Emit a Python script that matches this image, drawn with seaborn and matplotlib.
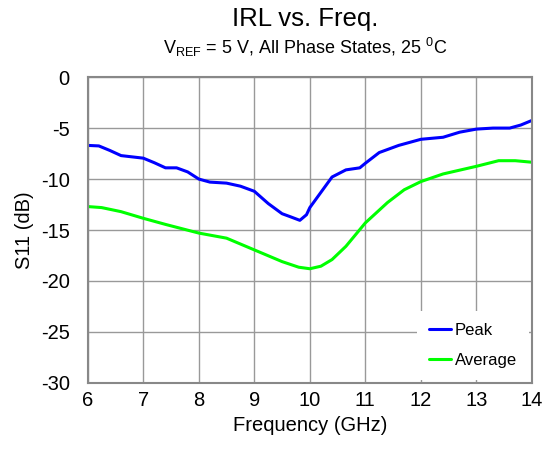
import numpy as np
import pandas as pd

import matplotlib
matplotlib.use("Agg")
import matplotlib.pyplot as plt
import seaborn as sns


freq_peak = [6.0, 6.2, 6.4, 6.6, 7.0, 7.2, 7.4, 7.6, 7.8, 8.0, 8.2, 8.5, 8.75,
             9.0, 9.25, 9.5, 9.65, 9.82, 9.94, 10.0, 10.2, 10.4, 10.65, 10.9,
             11.0, 11.25, 11.6, 12.0, 12.4, 12.7, 13.0, 13.3, 13.6, 13.8, 14.0]
peak_db = [-6.7, -6.75, -7.2, -7.7, -7.95, -8.4, -8.9, -8.9, -9.3, -10.0,
           -10.3, -10.4, -10.7, -11.2, -12.4, -13.4, -13.7, -14.05, -13.5,
           -12.8, -11.3, -9.8, -9.1, -8.9, -8.45, -7.4, -6.7, -6.1, -5.9,
           -5.4, -5.1, -5.0, -5.0, -4.7, -4.25]

freq_avg = [6.0, 6.25, 6.6, 7.0, 7.4, 8.0, 8.5, 9.0, 9.5, 9.8, 10.0, 10.2,
            10.4, 10.65, 11.0, 11.4, 11.7, 12.0, 12.4, 13.0, 13.4, 13.7, 14.0]
avg_db = [-12.7, -12.8, -13.2, -13.85, -14.45, -15.3, -15.8, -16.95, -18.1,
          -18.65, -18.8, -18.55, -17.9, -16.6, -14.3, -12.3, -11.05, -10.25,
          -9.5, -8.75, -8.2, -8.2, -8.35]

x_ticks = [6, 7, 8, 9, 10, 11, 12, 13, 14]
y_ticks = [0, -5, -10, -15, -20, -25, -30]


sns.set_style("white")
plt.rcParams["font.family"] = ["Liberation Sans", "DejaVu Sans"]
plt.rcParams["mathtext.fontset"] = "custom"
plt.rcParams["mathtext.rm"] = "Liberation Sans"
plt.rcParams["axes.unicode_minus"] = False
plt.rcParams["text.color"] = "black"
plt.rcParams["axes.labelcolor"] = "black"
plt.rcParams["xtick.color"] = "black"
plt.rcParams["ytick.color"] = "black"

df = pd.concat([
    pd.DataFrame({"freq": freq_peak, "s11": peak_db, "trace": "Peak"}),
    pd.DataFrame({"freq": freq_avg, "s11": avg_db, "trace": "Average"}),
])

fig = plt.figure(figsize=(5.45, 4.51), dpi=100)
ax = fig.add_axes([0.161, 0.151, 0.815, 0.678])

sns.lineplot(
    data=df, x="freq", y="s11", hue="trace",
    palette={"Peak": "#0000ff", "Average": "#00ff00"},
    linewidth=2.2, sort=False, ax=ax
)

ax.set_xlim(6, 14)
ax.set_ylim(-30, 0)
ax.set_xticks(x_ticks)
ax.set_yticks(y_ticks)
ax.tick_params(labelsize=14.5, length=0)
ax.tick_params(axis="y", pad=13)
ax.tick_params(axis="x", pad=6)
ax.grid(True, color="#999999", linewidth=1)
for s in ax.spines.values():
    s.set_color("#888888")
    s.set_linewidth(1.5)

ax.set_xlabel("Frequency (GHz)", fontsize=14.5, labelpad=4)
ax.set_ylabel("S11 (dB)", fontsize=14.5, labelpad=5)

fig.text(0.56, 0.958, "IRL vs. Freq.", ha="center", va="center", fontsize=18.5)
fig.text(0.56, 0.895,
         r"V$\mathregular{_{REF}}$ = 5 V, All Phase States, 25 $\mathregular{^0}$C",
         ha="center", va="center", fontsize=13)

leg = ax.legend(loc="lower right", fontsize=12, frameon=True, fancybox=False,
                handlelength=1.3, handletextpad=0.25, labelspacing=0.9,
                borderpad=0.7, borderaxespad=0.2, framealpha=1)
leg.get_frame().set_edgecolor("white")
leg.get_frame().set_linewidth(0)
leg.set_title(None)

fig.savefig("out.png", dpi=100)
